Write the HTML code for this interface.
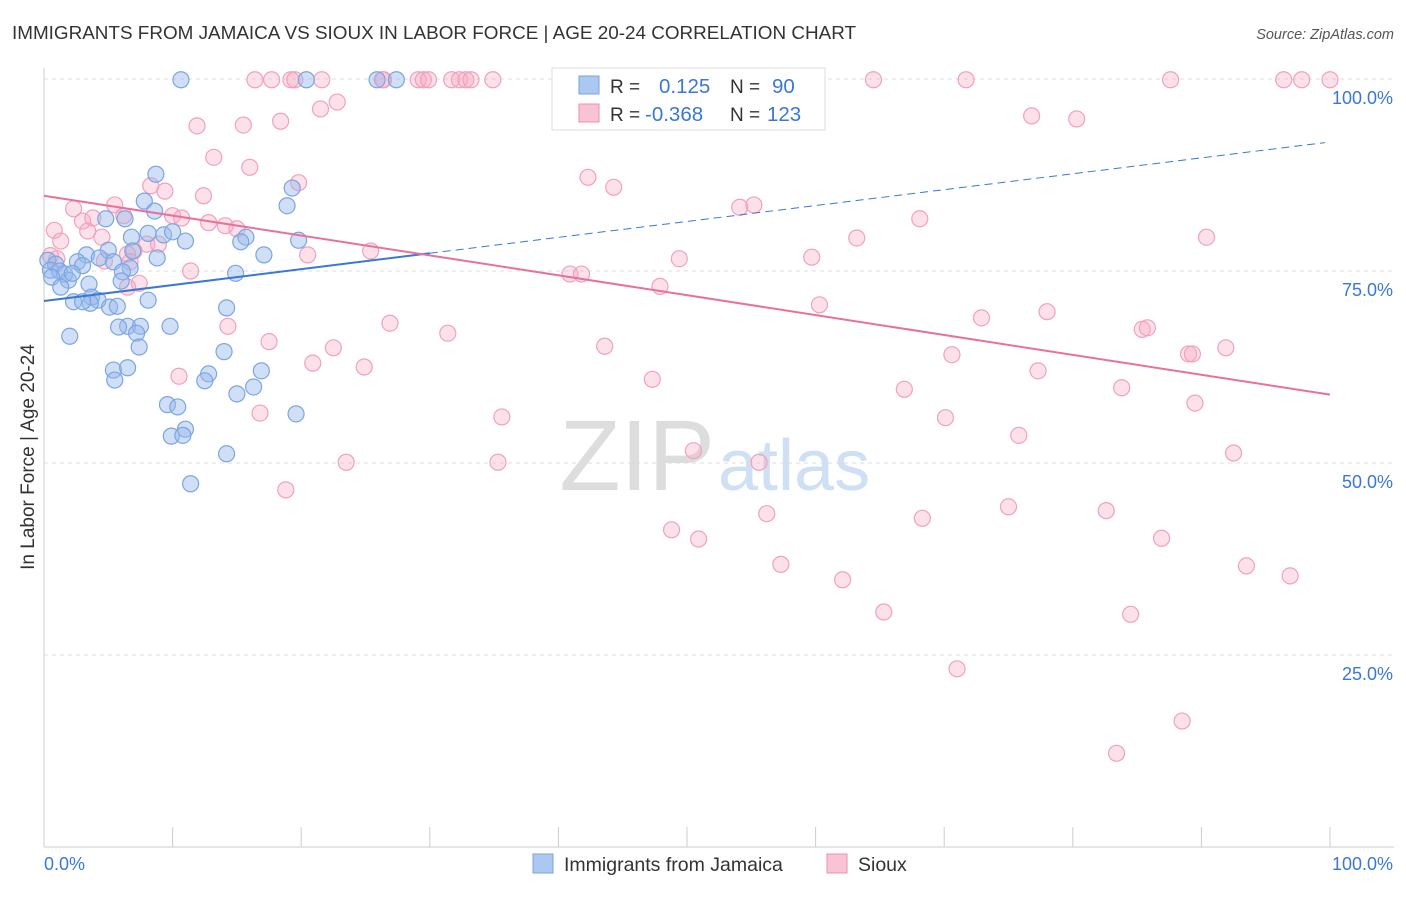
<!DOCTYPE html>
<html><head><meta charset="utf-8"><style>
body{margin:0;background:#fff;font-family:"Liberation Sans",sans-serif;}
svg text{font-family:"Liberation Sans",sans-serif;}
</style></head><body>
<svg width="1406" height="892" xmlns="http://www.w3.org/2000/svg">
<text x="12" y="39" font-size="18.8" fill="#333" textLength="844" lengthAdjust="spacingAndGlyphs">IMMIGRANTS FROM JAMAICA VS SIOUX IN LABOR FORCE | AGE 20-24 CORRELATION CHART</text>
<text x="1394" y="39" font-size="14.5" fill="#555" text-anchor="end" font-style="italic">Source: ZipAtlas.com</text>
<g id="grid"></g>
<text x="715" y="490" font-size="100" fill="#ddd" text-anchor="end" font-family="Liberation Serif">ZIP</text>
<text x="718" y="490" font-size="72" fill="#cfe0f5">atlas</text>
<g id="axes"></g>
<g id="pts"></g>
<g id="trend"></g>
<text transform="translate(34,457) rotate(-90)" font-size="19" fill="#333" text-anchor="middle">In Labor Force | Age 20-24</text>
<g>
<rect x="552" y="68" width="273" height="62" fill="#fff" stroke="#ddd"/>
<rect x="579" y="76" width="20" height="18" fill="#aac8f0" stroke="#7aa3e0"/>
<rect x="579" y="104" width="20" height="18" fill="#f8c4d5" stroke="#f08cb0"/>
<text x="610" y="93" font-size="19" fill="#333">R = <tspan x="659" fill="#3a78d6" font-size="20.5">0.125</tspan><tspan x="730" fill="#333">N = </tspan><tspan x="772" fill="#3a78d6" font-size="20.5">90</tspan></text>
<text x="610" y="121" font-size="19" fill="#333">R = <tspan x="645" fill="#3a78d6" font-size="20.5">-0.368</tspan><tspan x="730" fill="#333">N = </tspan><tspan x="767" fill="#3a78d6" font-size="20.5">123</tspan></text>
</g>
<g>
<rect x="533" y="854" width="20" height="19" fill="#aac8f0" stroke="#7aa3e0"/>
<text x="564" y="871" font-size="19.5" fill="#333">Immigrants from Jamaica</text>
<rect x="827" y="854" width="20" height="19" fill="#f8c4d5" stroke="#f08cb0"/>
<text x="858" y="871" font-size="19.5" fill="#333">Sioux</text>
</g>
</svg>
<script>
const yTicks=[100,75,50,25];
const yTickLabels=["100.0%","75.0%","50.0%","25.0%"];
const xTicks=[0,10,20,30,40,50,60,70,80,90,100];
const blueX=[10.65,20.4,25.9,27.4,8.7,19.3,18.9,7.8,8.6,4.8,6.3,8.1,9.3,10.0,6.8,11.0,15.7,15.3,19.8,17.1,5.0,6.9,3.3,4.3,5.4,0.3,0.9,2.6,3.0,8.8,6.7,14.9,6.1,6.0,0.5,1.2,1.6,0.6,1.9,3.5,1.3,2.2,3.7,4.2,3.6,5.1,5.7,2.3,3.0,8.1,14.2,6.5,5.8,7.5,7.2,9.8,2.0,7.4,14.0,5.4,6.5,16.9,12.8,12.5,5.5,16.3,15.0,9.6,10.4,19.6,11.0,9.9,10.8,14.2,11.4];
const blueY=[99.9,99.9,99.9,99.9,87.6,85.8,83.5,84.1,82.8,81.8,81.8,79.9,79.7,80.1,79.4,78.9,79.4,78.8,79.0,77.1,77.7,77.6,77.1,76.7,76.2,76.4,75.9,76.2,75.7,76.7,75.4,74.7,74.9,73.7,75.1,75.0,74.6,74.2,73.8,73.3,72.9,74.7,71.6,71.2,70.8,70.3,70.4,71.0,71.0,71.2,70.2,67.8,67.7,67.8,66.9,67.8,66.5,65.1,64.5,62.1,62.4,62.0,61.6,60.7,60.8,59.9,59.0,57.6,57.3,56.4,54.4,53.5,53.6,51.2,47.3];
const pinkX=[16.4,17.7,19.2,19.5,21.6,26.3,26.4,29.1,29.5,29.9,31.7,32.3,32.8,33.2,34.9,51.9,64.5,71.7,87.6,96.4,97.8,100.0,22.8,21.5,76.8,80.3,11.9,15.5,18.4,13.2,16.0,42.3,44.3,19.8,8.3,9.4,12.4,5.5,2.3,3.0,0.8,3.8,6.2,10.0,10.7,12.8,14.1,15.0,55.2,54.1,68.1,90.4,63.2,3.4,4.5,1.3,8.0,8.9,7.0,6.5,25.4,20.5,59.7,49.4,0.5,1.0,4.7,6.7,11.4,40.9,41.8,7.4,6.5,47.9,60.3,72.9,78.0,26.9,14.3,31.4,85.4,85.8,17.5,22.5,43.6,70.6,91.9,89.0,89.3,20.9,24.9,77.3,10.5,47.3,83.8,66.9,89.5,16.8,35.6,70.1,75.8,50.5,23.5,35.3,55.6,92.5,18.8,75.0,56.2,68.3,82.6,48.8,50.9,86.9,57.3,93.5,96.9,62.1,65.3,84.5,71.0,88.5,83.4];
const pinkY=[99.9,99.9,99.9,99.9,99.9,99.9,99.9,99.9,99.9,99.9,99.9,99.9,99.9,99.9,99.9,99.9,99.9,99.9,99.9,99.9,99.9,99.9,97.0,96.1,95.2,94.8,93.9,94.0,94.5,89.8,88.5,87.2,85.9,86.5,86.1,85.4,84.8,83.6,83.1,81.5,80.3,81.9,82.2,82.2,81.9,81.3,80.9,80.5,83.6,83.3,81.8,79.4,79.3,80.2,79.4,78.9,78.5,78.5,77.6,77.2,77.6,77.1,76.8,76.6,77.0,76.6,76.3,76.2,75.0,74.6,74.6,73.4,72.9,73.0,70.6,68.9,69.7,68.2,67.8,66.9,67.4,67.6,65.8,65.0,65.2,64.1,65.0,64.2,64.2,63.0,62.5,62.0,61.3,60.9,59.8,59.6,57.8,56.5,56.0,55.9,53.6,51.6,50.1,50.1,50.1,51.3,46.5,44.3,43.4,42.8,43.8,41.3,40.1,40.2,36.8,36.6,35.3,34.8,30.6,30.3,23.2,16.4,12.2];
const blueTrend=[71.1,91.8];
const pinkTrend=[84.8,58.9];
const X0=44,X1=1330,Y0=847,Y100=79;
const sx=v=>X0+(X1-X0)*v/100, sy=v=>Y0-(Y0-Y100)*v/100;
const NS="http://www.w3.org/2000/svg";
function mk(t,a,p){const e=document.createElementNS(NS,t);for(const k in a)e.setAttribute(k,a[k]);p.appendChild(e);return e;}
const grid=document.getElementById('grid'),axes=document.getElementById('axes');
yTicks.forEach((t,i)=>{
 const l=mk('line',{x1:X0,x2:1394,y1:sy(t),y2:sy(t),stroke:'#ddd','stroke-dasharray':'4,4'},grid);
 
 
 const tx=mk('text',{x:1393,y:sy(t)+25,'font-size':18,fill:'#3a78d6','text-anchor':'end'},axes);
 tx.textContent=yTickLabels[i];
 
 
});
mk('line',{x1:X0,x2:X0,y1:68,y2:847,stroke:'#ccc'},axes);
mk('line',{x1:X0,x2:1394,y1:847,y2:847,stroke:'#ccc'},axes);
xTicks.forEach(t=>{const l=mk('line',{x1:sx(t),x2:sx(t),y1:827,y2:847,stroke:'#ccc'},axes);
 
 });
const xl0=mk('text',{x:44,y:870,'font-size':18,fill:'#3a78d6'},axes);xl0.textContent='0.0%';


const xl1=mk('text',{x:1393,y:870,'font-size':18,fill:'#3a78d6','text-anchor':'end'},axes);xl1.textContent='100.0%';


const pts=document.getElementById('pts');
pinkX.forEach((x,i)=>{const c=mk('circle',{cx:sx(x),cy:sy(pinkY[i]),r:8,fill:'rgba(245,170,195,0.35)',stroke:'#f2a0bd','stroke-width':1.2},pts);
 
 });
blueX.forEach((x,i)=>{const c=mk('circle',{cx:sx(x),cy:sy(blueY[i]),r:8,fill:'rgba(150,185,235,0.45)',stroke:'#7aa6e2','stroke-width':1.2},pts);
 
 });
const tr=document.getElementById('trend');
const by=x=>blueTrend[0]+(blueTrend[1]-blueTrend[0])*x/100;
const b1=mk('line',{x1:sx(0),y1:sy(by(0)),x2:sx(30),y2:sy(by(30)),stroke:'#3a78d6','stroke-width':2},tr);


const b2=mk('line',{x1:sx(30),y1:sy(by(30)),x2:sx(99.6),y2:sy(by(99.6)),stroke:'#3a78d6','stroke-width':1,'stroke-dasharray':'8,5'},tr);


const p1=mk('line',{x1:sx(0),y1:sy(pinkTrend[0]),x2:sx(100),y2:sy(pinkTrend[1]),stroke:'#e8719c','stroke-width':2},tr);


</script>
</body></html>
